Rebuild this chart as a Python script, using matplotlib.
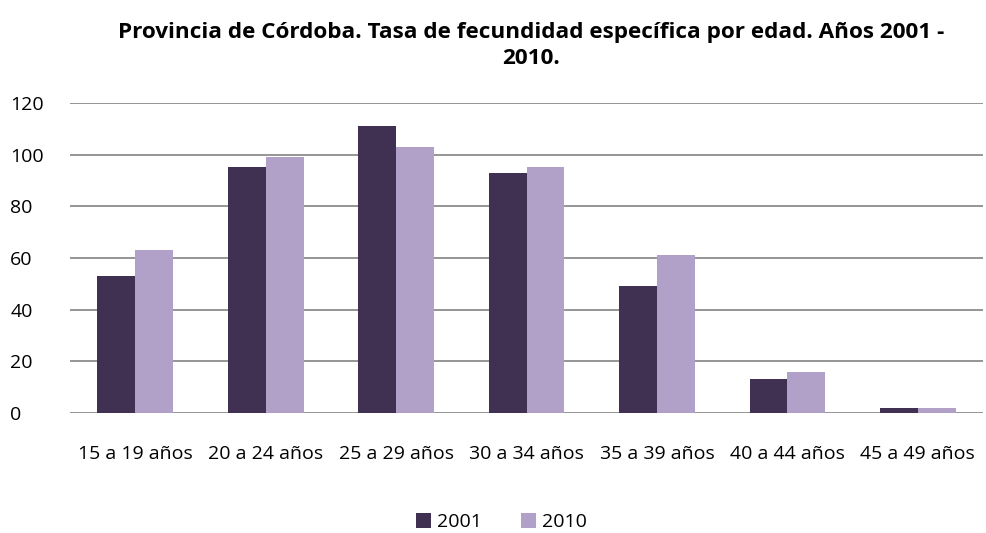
import matplotlib.pyplot as plt
import numpy as np

plt.rcParams['font.family'] = ['Open Sans', 'DejaVu Sans']

# age groups
categories = ['15 a 19 años', '20 a 24 años', '25 a 29 años', '30 a 34 años',
              '35 a 39 años', '40 a 44 años', '45 a 49 años']
# fertility rates per year
tasa_2001 = [53, 95, 111, 93, 49, 13, 2]
tasa_2010 = [63, 99, 103, 95, 61, 16, 2]

fig = plt.figure(figsize=(9.87, 5.33), dpi=100)
ax = fig.add_axes([0.071, 0.225, 0.925, 0.582])

x = np.arange(len(categories))
w = 0.29
ax.bar(x - w / 2, tasa_2001, width=w, color='#403152', label='2001', zorder=3)
ax.bar(x + w / 2, tasa_2010, width=w, color='#B1A0C7', label='2010', zorder=3)

ax.set_xlim(-0.5, len(categories) - 0.5)
ax.set_ylim(0, 120)
ax.set_yticks(range(0, 121, 20))
ax.yaxis.grid(True, color='#8c8c8c', linewidth=1.3, zorder=0)
ax.set_xticks(x)
ax.set_xticklabels(categories, fontsize=14)
ax.tick_params(axis='y', labelsize=14, length=0, pad=43)
ax.tick_params(axis='x', length=0, pad=23)
for s in ax.spines.values():
    s.set_visible(False)
for lab in ax.get_yticklabels():
    lab.set_horizontalalignment('left')

fig.text(0.538, 0.915, 'Provincia de Córdoba. Tasa de fecundidad específica por edad. Años 2001 -\n2010.',
         ha='center', va='center', fontsize=16.2, fontweight='bold', linespacing=1.3)

fig.legend(loc='center', bbox_to_anchor=(0.508, 0.02), ncol=2, frameon=False,
           fontsize=14, handlelength=0.8, handleheight=0.8, handletextpad=0.3,
           columnspacing=2.0)

fig.savefig('out.png', dpi=100)
